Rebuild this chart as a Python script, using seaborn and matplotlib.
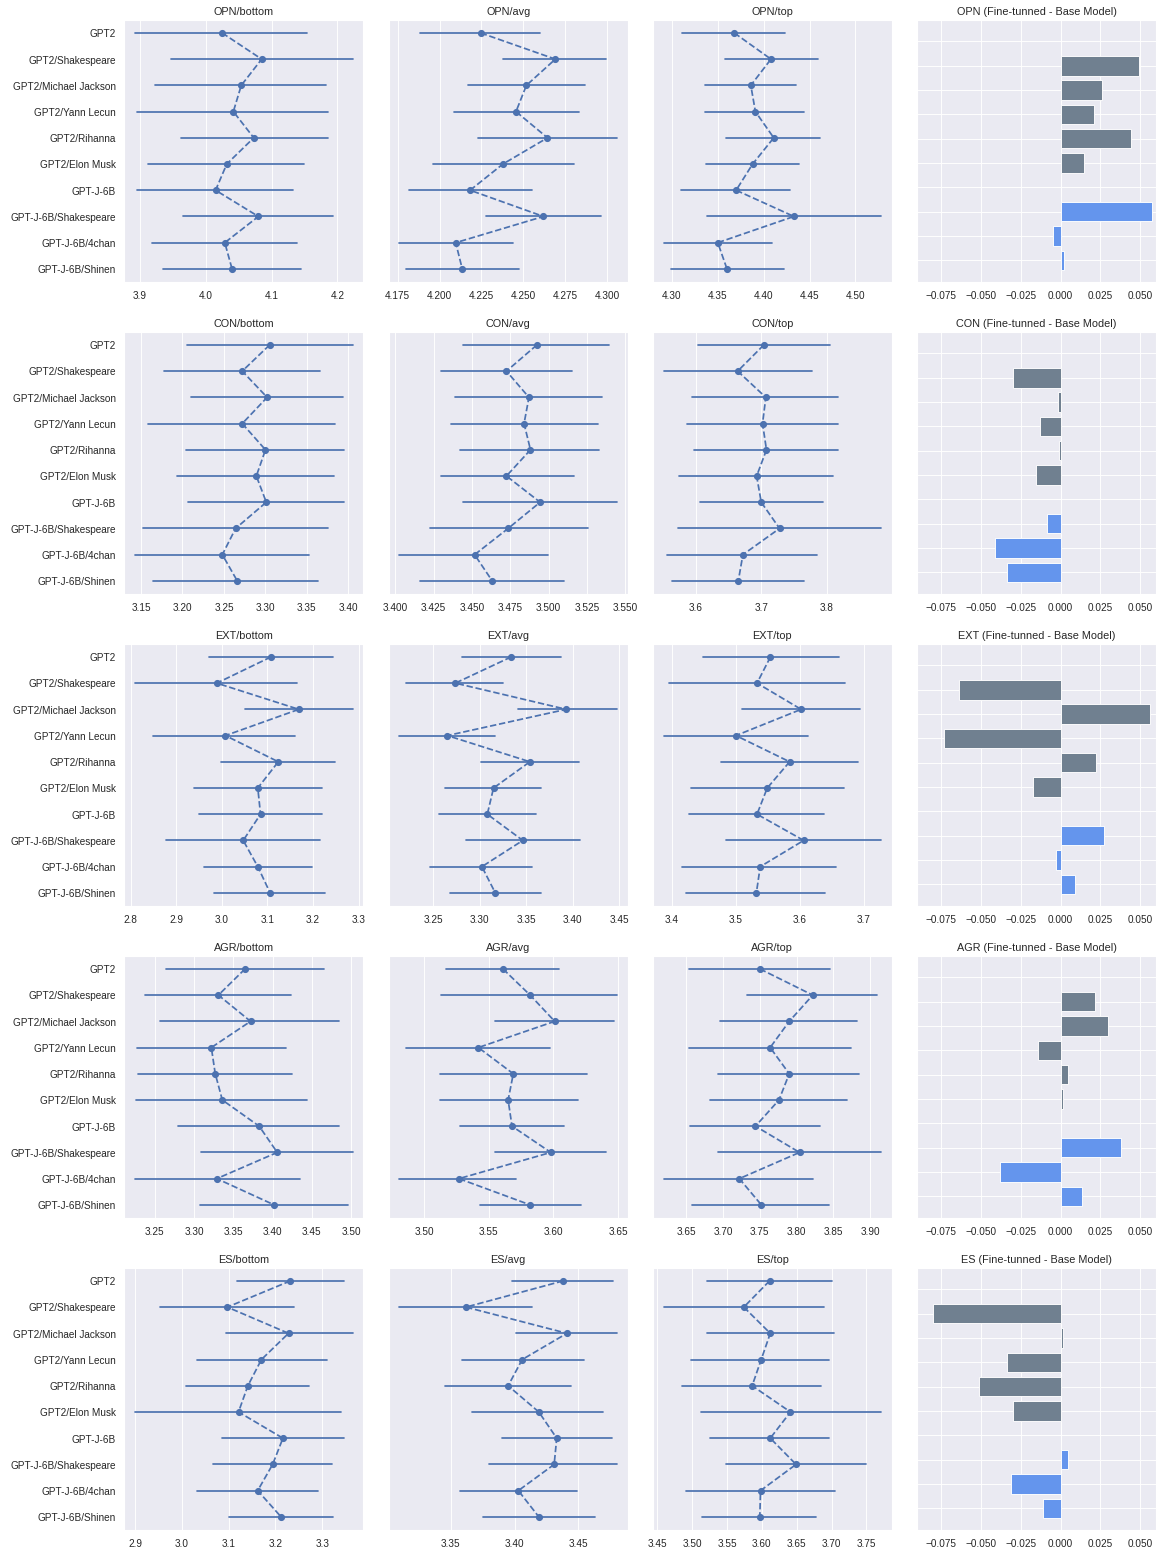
import numpy as np
import pandas as pd
import matplotlib
matplotlib.use("Agg")
import matplotlib.pyplot as plt
import seaborn as sns

models = ["GPT2", "GPT2/Shakespeare", "GPT2/Michael Jackson", "GPT2/Yann Lecun",
          "GPT2/Rihanna", "GPT2/Elon Musk", "GPT-J-6B", "GPT-J-6B/Shakespeare",
          "GPT-J-6B/4chan", "GPT-J-6B/Shinen"]
traits = ["OPN", "CON", "EXT", "AGR", "ES"]
levels = ["bottom", "avg", "top"]

# (lower CI, mean, upper CI) per model
opn_bottom = [(3.893, 4.025, 4.154), (3.947, 4.085, 4.223), (3.923, 4.054, 4.182),
              (3.896, 4.042, 4.185), (3.962, 4.073, 4.185), (3.913, 4.032, 4.150),
              (3.896, 4.015, 4.132), (3.966, 4.080, 4.193), (3.919, 4.029, 4.138),
              (3.935, 4.040, 4.144)]
opn_avg = [(4.1885, 4.2245, 4.2597), (4.2378, 4.2691, 4.2995), (4.2167, 4.2518, 4.2870),
           (4.2088, 4.2456, 4.2831), (4.2229, 4.2644, 4.3058), (4.1963, 4.2378, 4.2800),
           (4.1815, 4.2182, 4.2550), (4.2276, 4.2620, 4.2964), (4.1760, 4.2096, 4.2440),
           (4.1799, 4.2135, 4.2472)]
opn_top = [(4.311, 4.368, 4.423), (4.358, 4.408, 4.459), (4.336, 4.386, 4.435),
           (4.336, 4.391, 4.444), (4.359, 4.411, 4.461), (4.337, 4.388, 4.439),
           (4.310, 4.370, 4.429), (4.338, 4.433, 4.528), (4.291, 4.350, 4.409),
           (4.299, 4.360, 4.422)]
con_bottom = [(3.206, 3.305, 3.405), (3.178, 3.272, 3.366), (3.210, 3.302, 3.393),
              (3.159, 3.272, 3.384), (3.204, 3.300, 3.395), (3.193, 3.289, 3.383),
              (3.207, 3.301, 3.395), (3.153, 3.264, 3.375), (3.143, 3.248, 3.352),
              (3.165, 3.266, 3.363)]
con_avg = [(3.4444, 3.4924, 3.5394), (3.4297, 3.4725, 3.5153), (3.4391, 3.4872, 3.5352),
           (3.4360, 3.4840, 3.5321), (3.4423, 3.4882, 3.5331), (3.4297, 3.4725, 3.5164),
           (3.4444, 3.4945, 3.5446), (3.4224, 3.4736, 3.5258), (3.4026, 3.4517, 3.4997),
           (3.4162, 3.4632, 3.5101)]
con_top = [(3.603, 3.704, 3.805), (3.551, 3.664, 3.777), (3.595, 3.707, 3.818),
           (3.586, 3.702, 3.818), (3.598, 3.708, 3.818), (3.575, 3.693, 3.809),
           (3.606, 3.700, 3.795), (3.573, 3.728, 3.883), (3.556, 3.672, 3.785),
           (3.564, 3.665, 3.765)]
ext_bottom = [(2.972, 3.108, 3.243), (2.810, 2.989, 3.165), (3.051, 3.169, 3.287),
              (2.849, 3.008, 3.161), (2.998, 3.124, 3.249), (2.939, 3.079, 3.219),
              (2.950, 3.085, 3.220), (2.877, 3.047, 3.215), (2.961, 3.079, 3.197),
              (2.983, 3.106, 3.227)]
ext_avg = [(3.2815, 3.3339, 3.3874), (3.2204, 3.2738, 3.3253), (3.3416, 3.3931, 3.4475),
           (3.2137, 3.2652, 3.3168), (3.3015, 3.3540, 3.4065), (3.2624, 3.3149, 3.3664),
           (3.2566, 3.3082, 3.3607), (3.2853, 3.3464, 3.4074), (3.2461, 3.3024, 3.3568),
           (3.2681, 3.3168, 3.3664)]
ext_top = [(3.449, 3.554, 3.661), (3.395, 3.533, 3.671), (3.510, 3.602, 3.694),
           (3.387, 3.500, 3.612), (3.476, 3.584, 3.691), (3.430, 3.549, 3.669),
           (3.427, 3.533, 3.638), (3.485, 3.606, 3.727), (3.416, 3.538, 3.656),
           (3.422, 3.532, 3.640)]
agr_bottom = [(3.264, 3.365, 3.465), (3.238, 3.331, 3.424), (3.256, 3.372, 3.485),
              (3.227, 3.322, 3.417), (3.229, 3.327, 3.425), (3.226, 3.336, 3.444),
              (3.279, 3.383, 3.485), (3.309, 3.406, 3.502), (3.225, 3.329, 3.435),
              (3.308, 3.402, 3.496)]
agr_avg = [(3.517, 3.561, 3.604), (3.513, 3.582, 3.649), (3.555, 3.601, 3.647),
           (3.486, 3.542, 3.597), (3.512, 3.569, 3.626), (3.512, 3.565, 3.619),
           (3.528, 3.568, 3.608), (3.555, 3.598, 3.641), (3.481, 3.527, 3.571),
           (3.543, 3.582, 3.621)]
agr_top = [(3.654, 3.750, 3.846), (3.733, 3.822, 3.910), (3.696, 3.790, 3.882),
           (3.654, 3.764, 3.874), (3.693, 3.790, 3.885), (3.682, 3.776, 3.868),
           (3.655, 3.744, 3.832), (3.693, 3.804, 3.915), (3.619, 3.722, 3.822),
           (3.658, 3.752, 3.844)]
es_bottom = [(3.117, 3.232, 3.347), (2.953, 3.097, 3.240), (3.095, 3.228, 3.365),
             (3.032, 3.170, 3.310), (3.008, 3.141, 3.271), (2.900, 3.121, 3.341),
             (3.086, 3.216, 3.347), (3.067, 3.194, 3.322), (3.033, 3.162, 3.290),
             (3.101, 3.212, 3.324)]
es_avg = [(3.398, 3.438, 3.477), (3.310, 3.362, 3.414), (3.401, 3.441, 3.480),
          (3.359, 3.406, 3.454), (3.346, 3.395, 3.444), (3.367, 3.419, 3.469),
          (3.390, 3.433, 3.476), (3.380, 3.431, 3.480), (3.357, 3.403, 3.449),
          (3.375, 3.419, 3.463)]
es_top = [(3.521, 3.611, 3.700), (3.459, 3.574, 3.689), (3.521, 3.612, 3.703),
          (3.498, 3.599, 3.697), (3.486, 3.586, 3.685), (3.512, 3.641, 3.771),
          (3.526, 3.612, 3.697), (3.548, 3.649, 3.749), (3.491, 3.598, 3.705),
          (3.514, 3.597, 3.678)]

# fine-tuned minus base model
opn_diff = [0, 0.0494, 0.0258, 0.0208, 0.0442, 0.0147, 0, 0.0576, -0.0050, 0.0024]
con_diff = [0, -0.0296, -0.0015, -0.0130, -0.0010, -0.0151, 0, -0.0082, -0.0408, -0.0333]
ext_diff = [0, -0.0637, 0.0562, -0.0730, 0.0220, -0.0171, 0, 0.0272, -0.0026, 0.0089]
agr_diff = [0, 0.0216, 0.0298, -0.0140, 0.0048, 0.0013, 0, 0.0382, -0.0378, 0.0134]
es_diff = [0, -0.0797, 0.0013, -0.0337, -0.0510, -0.0296, 0, 0.0048, -0.0313, -0.0108]

scores = {
    "OPN": [opn_bottom, opn_avg, opn_top],
    "CON": [con_bottom, con_avg, con_top],
    "EXT": [ext_bottom, ext_avg, ext_top],
    "AGR": [agr_bottom, agr_avg, agr_top],
    "ES": [es_bottom, es_avg, es_top],
}
diffs = {"OPN": opn_diff, "CON": con_diff, "EXT": ext_diff, "AGR": agr_diff, "ES": es_diff}


def to_long(rows):
    # three values per model: median -> mean, min/max -> CI
    recs = []
    for m, (lo, mid, hi) in zip(models, rows):
        for v in (lo, mid, hi):
            recs.append({"model": m, "value": v})
    return pd.DataFrame(recs)


sns.set_theme(style="darkgrid")
plt.rcParams["font.family"] = ["Liberation Sans", "DejaVu Sans"]

fig, axes = plt.subplots(5, 4, figsize=(17.74, 23.7), dpi=65.5)
fig.subplots_adjust(left=0.107, right=0.995, top=0.987, bottom=0.0142,
                    wspace=0.105, hspace=0.19)

bar_colors = ["slategray" if m.startswith("GPT2") else "cornflowerblue" for m in models]

for i, trait in enumerate(traits):
    for j, level in enumerate(levels):
        ax = axes[i, j]
        df = to_long(scores[trait][j])
        sns.pointplot(data=df, x="value", y="model", order=models,
                      estimator="median",
                      errorbar=lambda v: (v.min(), v.max()),
                      linestyles="--", linewidth=1.9, markersize=6.4, ax=ax)
        ax.set_title(f"{trait}/{level}")
        ax.set_xlabel("")
        ax.set_ylabel("")
        if j > 0:
            ax.tick_params(labelleft=False)

    ax = axes[i, 3]
    ax.barh(np.arange(len(models)), diffs[trait], color=bar_colors)
    ax.invert_yaxis()
    ax.set_yticks(np.arange(len(models)))
    ax.set_yticklabels([])
    ax.set_xlim(-0.09, 0.06)
    ax.set_xticks([-0.075, -0.05, -0.025, 0.0, 0.025, 0.05])
    ax.set_title(f"{trait} (Fine-tunned - Base Model)")

fig.savefig("out.png", dpi=65.5)
